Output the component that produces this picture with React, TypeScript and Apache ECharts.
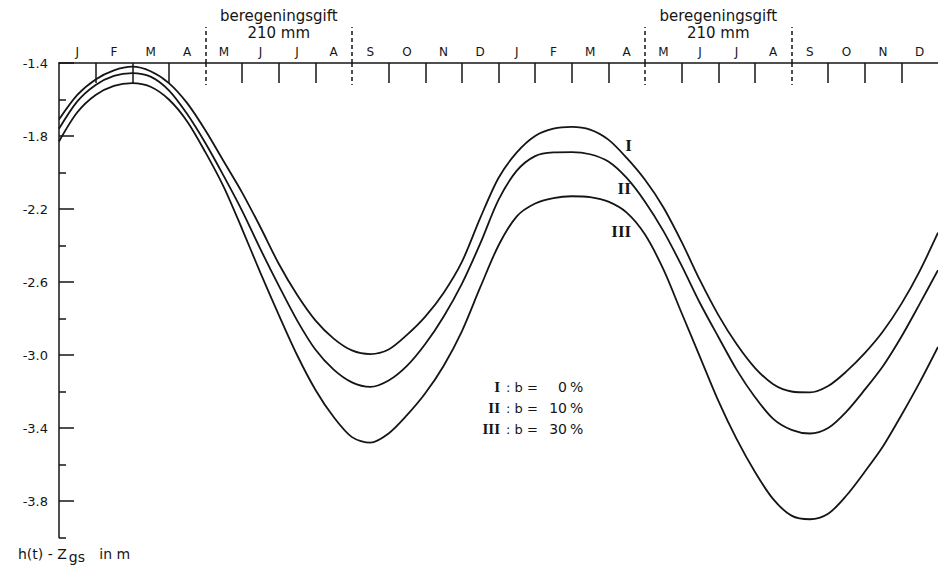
import React, { useEffect, useRef } from "react";
import * as echarts from "echarts";

// ---- data ----
const monthLabels = ["J", "F", "M", "A", "M", "J", "J", "A", "S", "O", "N", "D", "J", "F", "M", "A", "M", "J", "J", "A", "S", "O", "N", "D"];
// time in months from 1 January of the first year (half-month steps)
const months = [0, 0.5, 1, 1.5, 2, 2.5, 3, 3.5, 4, 4.5, 5, 5.5, 6, 6.5, 7, 7.5, 8, 8.5, 9, 9.5, 10, 10.5, 11, 11.5, 12, 12.5, 13, 13.5, 14, 14.5, 15, 15.5, 16, 16.5, 17, 17.5, 18, 18.5, 19, 19.5, 20, 20.5, 21, 21.5, 22, 22.5, 23, 23.5, 24];
const curveI = [
  -1.71, -1.575, -1.49, -1.44, -1.42, -1.445, -1.51, -1.62, -1.77, -1.94,
  -2.11, -2.30, -2.50, -2.67, -2.81, -2.91, -2.975, -2.995, -2.97, -2.89,
  -2.79, -2.66, -2.49, -2.25, -2.03, -1.89, -1.80, -1.76, -1.75, -1.765,
  -1.82, -1.92, -2.04, -2.19, -2.38, -2.59, -2.78, -2.94, -3.07, -3.16,
  -3.20, -3.205, -3.17, -3.09, -2.99, -2.87, -2.72, -2.54, -2.33,
];
const curveII = [
  -1.76, -1.61, -1.52, -1.47, -1.455, -1.475, -1.55, -1.68, -1.84, -2.02,
  -2.21, -2.42, -2.62, -2.81, -2.97, -3.08, -3.15, -3.175, -3.14, -3.06,
  -2.94, -2.79, -2.61, -2.39, -2.15, -1.99, -1.91, -1.89, -1.888, -1.90,
  -1.94, -2.03, -2.16, -2.32, -2.51, -2.715, -2.90, -3.08, -3.23, -3.35,
  -3.41, -3.43, -3.40, -3.31, -3.19, -3.06, -2.90, -2.72, -2.535,
];
const curveIII = [
  -1.83, -1.67, -1.575, -1.525, -1.51, -1.53, -1.60, -1.72, -1.89, -2.08,
  -2.31, -2.55, -2.78, -3.00, -3.19, -3.34, -3.45, -3.48, -3.43, -3.33,
  -3.21, -3.06, -2.87, -2.63, -2.40, -2.24, -2.17, -2.14, -2.13, -2.135,
  -2.16, -2.22, -2.34, -2.53, -2.77, -3.01, -3.25, -3.46, -3.64, -3.79,
  -3.88, -3.90, -3.87, -3.77, -3.64, -3.50, -3.33, -3.15, -2.956,
];
const curveNames = ["I", "II", "III"];
const curveLabelAt: [number, number][] = [[15.55, -1.85], [15.43, -2.085], [15.35, -2.326]];
const bPercent = ["0", "10", "30"];

const yTickValues = [-1.4, -1.8, -2.2, -2.6, -3.0, -3.4, -3.8];
const yMinorTicks = [-1.6, -2.0, -2.4, -2.8, -3.2, -3.6, -4.0];
const monthTicks = [1, 2, 3, 5, 6, 7, 9, 10, 11, 12, 13, 14, 15, 17, 18, 19, 21, 22, 23];
const monthLabelPos = monthLabels.map((_, i) => i + 0.5);
const irrigationBounds = [4, 8, 16, 20];
const irrigationCenters = [6, 18];
const irrigationText = "beregeningsgift\n210 mm";
const yAxisTitle = { main: "h(t) - Z", sub: "gs", unit: "   in m" };

const INK = "#151515";
const SANS = "DejaVu Sans";
const SERIF = "Liberation Serif";

export default function App() {
  const ref = useRef<HTMLDivElement>(null);
  useEffect(() => {
    if (!ref.current) return;
    const chart = echarts.init(ref.current, null, { renderer: "svg" });
    const series = [curveI, curveII, curveIII].map((vals, i) => ({
      type: "line",
      name: curveNames[i],
      xAxisIndex: 0,
      yAxisIndex: 0,
      data: months.map((m, k) => [m, vals[k]]),
      smooth: 0.3,
      symbol: "none",
      lineStyle: { color: INK, width: 1.8 },
      markPoint: {
        symbol: "rect",
        symbolSize: 1,
        itemStyle: { color: "rgba(0,0,0,0)" },
        label: {
          show: true,
          position: "inside",
          formatter: curveNames[i],
          fontFamily: SERIF,
          fontSize: 17,
          fontWeight: "bold",
          color: INK,
        },
        data: [{ coord: curveLabelAt[i], name: curveNames[i] }],
      },
    }));

    const legendGraphics: any[] = [];
    const legendY = [387, 408, 429];
    curveNames.forEach((n, i) => {
      legendGraphics.push({
        type: "text", x: 500, y: legendY[i],
        style: { text: n, font: `bold 15px '${SERIF}'`, fill: INK, align: "right", verticalAlign: "middle" },
      });
      legendGraphics.push({
        type: "text", x: 506, y: legendY[i],
        style: { text: ": b =", font: `13px '${SANS}'`, fill: INK, align: "left", verticalAlign: "middle" },
      });
      legendGraphics.push({
        type: "text", x: 567, y: legendY[i],
        style: { text: bPercent[i], font: `14px '${SANS}'`, fill: INK, align: "right", verticalAlign: "middle" },
      });
      legendGraphics.push({
        type: "text", x: 570, y: legendY[i],
        style: { text: "%", font: `14px '${SANS}'`, fill: INK, align: "left", verticalAlign: "middle" },
      });
    });

    chart.setOption({
      animation: false,
      backgroundColor: "#ffffff",
      grid: { left: 59, top: 63, width: 880, bottom: 27.5, containLabel: false },
      xAxis: [
        {
          type: "value", position: "top", min: 0, max: 24,
          axisLine: { show: true, lineStyle: { color: INK, width: 1.5 } },
          axisTick: { show: true, inside: true, length: 20, customValues: monthTicks, lineStyle: { color: INK, width: 1.5 } },
          axisLabel: {
            show: true, customValues: monthLabelPos, margin: 5,
            formatter: (v: number) => monthLabels[Math.floor(v)],
            fontFamily: SANS, fontSize: 12, color: INK,
          },
          splitLine: { show: false },
        },
        {
          type: "value", position: "top", min: 0, max: 24,
          axisLine: { show: false },
          axisTick: { show: true, inside: true, length: 22, customValues: irrigationBounds, lineStyle: { color: INK, width: 1.5, type: [4, 3] } },
          axisLabel: { show: false },
          splitLine: { show: false },
        },
        {
          type: "value", position: "top", min: 0, max: 24,
          axisLine: { show: false },
          axisTick: { show: true, inside: false, length: 36, customValues: irrigationBounds, lineStyle: { color: INK, width: 1.5, type: [4, 3] } },
          axisLabel: {
            show: true, customValues: irrigationCenters, margin: 22,
            formatter: () => irrigationText,
            fontFamily: SANS, fontSize: 15, lineHeight: 17, color: INK,
          },
          splitLine: { show: false },
        },
      ],
      yAxis: [
        {
          type: "value", position: "left", min: -4.0, max: -1.4,
          axisLine: { show: true, lineStyle: { color: INK, width: 1.5 } },
          axisTick: { show: true, inside: true, length: 15, customValues: yTickValues, lineStyle: { color: INK, width: 1.5 } },
          axisLabel: {
            show: true, customValues: yTickValues, margin: 11,
            formatter: (v: number) => v.toFixed(1),
            fontFamily: SANS, fontSize: 13, color: INK,
          },
          splitLine: { show: false },
        },
        {
          type: "value", position: "left", min: -4.0, max: -1.4,
          axisLine: { show: false },
          axisTick: { show: true, inside: true, length: 7, customValues: yMinorTicks, lineStyle: { color: INK, width: 1.5 } },
          axisLabel: { show: false },
          splitLine: { show: false },
        },
      ],
      series,
      graphic: [
        ...legendGraphics,
        {
          type: "text", x: 18, y: 543,
          style: {
            text: `{a|${yAxisTitle.main}}{b|${yAxisTitle.sub}}{a|${yAxisTitle.unit}}`,
            fill: INK,
            rich: {
              a: { fontFamily: SANS, fontSize: 14, fill: INK, color: INK },
              b: { fontFamily: SANS, fontSize: 14, fill: INK, color: INK, padding: [7, 1, 0, 2] },
            },
          },
        },
      ],
    });
    return () => chart.dispose();
  }, []);
  return <div ref={ref} style={{ position: "fixed", left: 0, top: 0, width: 938, height: 565, background: "#fff" }} />;
}
